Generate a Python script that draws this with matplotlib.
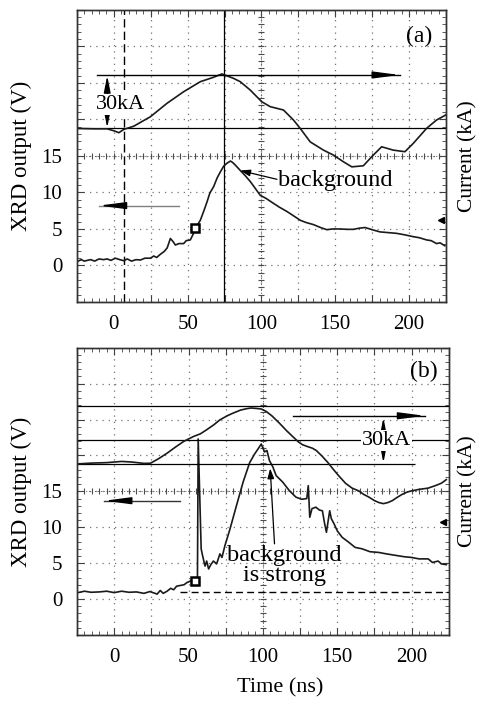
import numpy as np
import matplotlib
matplotlib.use("Agg")
import matplotlib.pyplot as plt
from matplotlib.ticker import FixedLocator, MultipleLocator, FuncFormatter

# ---- (a) XRD output, V
a_xrd_t = np.array([-24.7, -22, -20, -17, -15.7, -13, -10, -7, -4.5, -2, 1, 4, 6.8, 9, 12, 15, 18, 21,
                    24.8, 27, 29, 31.6, 34, 36.1, 38.3, 40, 41.7, 44, 47.3, 49, 51.8, 54, 55.3, 58.6,
                    61, 63.1, 65, 67.6, 70, 72.1, 74.4, 76.6, 79, 80.5, 82.5, 85.7, 89, 92.4, 96, 99.2,
                    103, 108.2, 112, 117.2, 121, 126.2, 130, 135.2, 140, 144.3, 148, 153.3, 158, 162.3,
                    166, 170.2, 175, 180.3, 186, 191.6, 197, 202.8, 207, 211.9, 215, 218.6, 221, 224.2])
a_xrd_v = np.array([0.55, 0.8, 0.6, 0.75, 0.8, 0.6, 0.9, 0.8, 0.9, 0.7, 1.0, 0.8, 0.65, 0.9, 0.6, 0.8, 0.75, 1.0,
                    1.0, 1.3, 1.1, 1.55, 1.9, 2.4, 3.7, 3.3, 2.8, 3.0, 3.0, 3.4, 3.5, 4.4, 5.1, 6.2,
                    7.5, 8.7, 9.9, 10.8, 12.0, 12.8, 13.6, 14.0, 14.3, 14.1, 13.7, 13.0, 12.3, 11.5, 10.5, 9.6,
                    9.2, 8.5, 8.0, 7.4, 6.9, 6.2, 5.9, 5.6, 5.2, 4.9, 5.0, 5.0, 4.95, 4.95,
                    5.1, 5.2, 4.9, 4.6, 4.5, 4.4, 4.2, 3.95, 3.8, 3.5, 3.4, 3.0, 3.1, 2.7])

# ---- (a) discharge current, kA
a_cur_t = np.array([-24.3, -13.5, -4.5, 0, 3.4, 6.8, 13.5, 24.8, 36, 47.3, 58.6, 67.6, 73.2, 81, 85.6,
                    92.3, 100.2, 105.9, 114.9, 121.7, 126.2, 133, 142, 148.7, 155.5, 161.2, 169, 175.8,
                    181.4, 189.3, 197.2, 202.8, 211.9, 218.6, 224.7])
a_cur_i = np.array([-0.4, -0.6, -0.6, -1.7, -2.8, -0.9, 0.9, 6.3, 13.9, 20.5, 26.2, 28.7, 30.6, 28.1, 26.2,
                    21.5, 14.8, 12.0, 10.1, 4.4, -0.3, -8.0, -12.7, -15.5, -19.3, -22.2, -21.6, -15.5,
                    -10.8, -12.7, -13.6, -8.9, -0.3, 4.4, 7.2])

# ---- (b) XRD output, V
b_xrd_t = np.array([-24.4, -20, -15.5, -10, -5, 0, 5, 10, 15, 20, 24, 28.9, 31, 33, 35.6, 38, 40, 42,
                    44.5, 47, 48.9, 52.3, 54.5, 56, 56.5, 58.5, 59.5, 61.1, 62.2, 63.5, 65, 66.7, 68.9,
                    71.1, 72.5, 74.4, 77.8, 82.2, 86.7, 91.1, 94.4, 96.7, 98.9, 101.1, 102.7, 104.4,
                    106.7, 108.9, 113.3, 117.8, 122.2, 126, 129.5, 130.5, 131.5, 133, 135.6, 138, 140,
                    141.5, 142.7, 144.9, 146, 147.8, 150, 153.3, 157.8, 162, 166.7, 172, 177.8, 183,
                    188.9, 195, 200, 205, 211.1, 214, 217.8, 220, 223.3])
b_xrd_v = np.array([0.9, 1.1, 0.95, 1.0, 1.1, 0.9, 1.1, 0.95, 1.0, 0.8, 1.05, 0.7, 1.2, 0.8, 1.1, 1.5, 1.3, 1.8,
                    1.9, 2.0, 2.3, 2.6, 2.5, 2.8, 22.3, 7.0, 6.0, 4.6, 5.3, 4.2, 4.8, 5.3, 4.9,
                    6.3, 5.8, 7.4, 9.7, 13.0, 16.3, 19.0, 20.2, 20.9, 21.6, 20.5, 20.7, 19.3,
                    18.4, 17.2, 16.3, 15.1, 14.2, 13.9, 14.0, 15.8, 11.4, 12.6, 12.8, 12.4, 12.3,
                    10.5, 9.3, 12.3, 11.2, 10.5, 9.5, 8.6, 7.9, 7.2, 7.0, 6.6, 6.5, 6.3,
                    6.1, 5.9, 5.8, 5.6, 5.6, 5.1, 5.3, 4.9, 4.8])

# ---- (b) discharge current, kA
b_cur_t = np.array([-24, -15, -5, 5, 12, 20, 24.4, 30, 35.6, 41, 46.7, 53.3, 58, 62.2, 67, 71.1, 76, 80,
                    85, 88.9, 92, 95.6, 99, 102.2, 106, 111.1, 116, 120, 124, 126.7, 130, 133.3, 136,
                    140, 144, 146.7, 151, 155.6, 160, 164.4, 168, 171, 175, 178, 181, 184, 187, 190,
                    193.3, 197, 200, 205, 211, 216, 220, 223.3])
b_cur_i = np.array([0.0, 0.5, 0.8, 1.6, 1.2, 0.3, 0.4, 3.5, 7.1, 11, 14.9, 18.2, 20, 22.7, 26, 29.3, 32, 33.8,
                    35.8, 36.7, 37.2, 36.9, 36.5, 34.9, 32, 27.1, 22, 18.2, 14.5, 12.7, 11.5, 10.4, 8.8,
                    4.9, 0.5, -2.9, -8, -13, -16.2, -18, -20.5, -22, -24.5, -25.8, -26.5, -25.8, -24.5, -22.5,
                    -20.5, -18.8, -18, -17, -16.2, -14.5, -12.9, -10.5])

t_labels = [0, 50, 100, 150, 200]
v_labels = [0, 5, 10, 15]

plt.rcParams.update({"font.family": ["Liberation Serif", "DejaVu Serif"], "font.size": 15,
                     "axes.linewidth": 1.0, "axes.edgecolor": "0.2"})

fig = plt.figure(figsize=(4.78, 7.04), dpi=100)
axA = fig.add_axes([0.161, 0.571, 0.772, 0.415])
axB = fig.add_axes([0.161, 0.098, 0.778, 0.408])

TR = "0.1"


def scope(ax, cur_lim, rlab):
    ax.set_xlim(-25, 225)
    ax.set_ylim(-5, 35)
    ax.xaxis.set_major_locator(FixedLocator(np.arange(-25, 226, 25)))
    ax.xaxis.set_minor_locator(MultipleLocator(5))
    ax.yaxis.set_major_locator(FixedLocator(np.arange(-5, 36, 5)))
    ax.yaxis.set_minor_locator(MultipleLocator(1))
    ax.xaxis.set_major_formatter(FuncFormatter(lambda v, p: f"{v:.0f}" if round(v) in t_labels else ""))
    ax.yaxis.set_major_formatter(FuncFormatter(lambda v, p: f"{v:.0f}" if round(v) in v_labels else ""))
    ax.grid(which="major", ls=(0, (1, 4)), color="0.45", lw=0.9)
    # centre cross of the scope screen with sub-division marks
    ax.axhline(15, color="0.35", lw=0.7, ls=(0, (1, 2)))
    ax.axvline(100, color="0.35", lw=0.7, ls=(0, (1, 2)))
    ax.plot(np.arange(-25, 226, 5), np.full(51, 15), "|", ms=5, mew=0.8, color="0.3")
    ax.plot(np.full(41, 100), np.arange(-5, 36, 1), "_", ms=5, mew=0.8, color="0.3")
    ax.set_ylabel("XRD output (V)", fontsize=16.5)
    ax.yaxis.set_label_coords(-0.122, 0.5)
    ax2 = ax.twinx()
    ax2.set_ylim(*cur_lim)
    ax2.set_yticks([])
    ax2.set_ylabel("Current (kA)", fontsize=15.5)
    ax2.yaxis.set_label_coords(rlab, 0.5)
    ax.tick_params(which="both", direction="in", top=True, right=True, color="0.25")
    ax.tick_params(which="major", length=5, width=0.8, labelsize=15)
    ax.tick_params(which="minor", length=3, width=0.6)
    ax.tick_params(axis="x", pad=9)
    ax.tick_params(axis="y", pad=10.5)
    return ax2


def head(ax, x0, x1, y, shaft):
    ax.plot([x0, x1], [y, y], color=shaft, lw=1.0)
    ax.annotate("", xy=(x1, y), xytext=(x1 + (16 if x1 < x0 else -16), y),
                arrowprops=dict(arrowstyle="-|>,head_length=1.0,head_width=0.13", mutation_scale=16,
                                lw=1.0, color="black", shrinkA=0, shrinkB=0))


def span(ax, x, y0, y1):
    ax.annotate("", xy=(x, y1), xytext=(x, y0),
                arrowprops=dict(arrowstyle="<|-|>,head_length=1.0,head_width=0.2", mutation_scale=10,
                                lw=1.0, color="black", shrinkA=0, shrinkB=0))


# ---------------- panel (a)
cA = scope(axA, (-99, 67), 1.032)
axA.axvline(6.8, color="black", lw=1.0, ls=(0, (6, 3)))
axA.axvline(74.4, color="black", lw=0.9)
axA.plot(a_xrd_t, a_xrd_v, color=TR, lw=1.2)
axA.plot(55.3, 5.1, "s", ms=6, mfc="white", mec="black", mew=1.8)
axA.plot(221.3, 6.2, "<", ms=4, color="black")
head(axA, 43.9, -10.1, 8.2, "0.5")
axA.annotate("", xy=(85.6, 13.0), xytext=(110.5, 11.8),
             arrowprops=dict(arrowstyle="-|>,head_length=0.6,head_width=0.2", mutation_scale=10,
                             lw=0.9, color="black", shrinkA=0, shrinkB=0))
axA.text(111.3, 11.6, "background", fontsize=17.5, ha="left", va="center")
axA.text(0.927, 0.909, "(a)", transform=axA.transAxes, fontsize=17, ha="center", va="center")

cA.axhline(0, color="black", lw=0.9)
cA.plot(a_cur_t, a_cur_i, color=TR, lw=1.2)
head(cA, -11.2, 193.7, 30, "black")
span(cA, -4.5, 0, 29.6)
cA.text(4.6, 13.2, "30kA", fontsize=16, ha="center", va="center",
        bbox=dict(facecolor="white", edgecolor="none", pad=0.5))

# ---------------- panel (b)
cB = scope(axB, (-114, 77.3), 1.025)
axB.hlines(1.0, 44.5, 225, color="black", lw=1.0, ls=(0, (5, 3)))
axB.plot(b_xrd_t, b_xrd_v, color=TR, lw=1.2)
axB.plot(54.5, 2.5, "s", ms=6, mfc="white", mec="black", mew=1.8)
axB.plot(221, 10.8, "<", ms=4, color="black")
head(axB, 44.5, -6.7, 13.7, "0.2")
axB.annotate("", xy=(104.9, 18.2), xytext=(107.8, 7.7),
             arrowprops=dict(arrowstyle="-|>,head_length=0.6,head_width=0.2", mutation_scale=10,
                             lw=0.9, color="black", shrinkA=0, shrinkB=0))
axB.text(114.5, 4.7, "background\nis strong", fontsize=17.5, ha="center", va="center", linespacing=0.9)
axB.text(0.933, 0.917, "(b)", transform=axB.transAxes, fontsize=17, ha="center", va="center")
axB.set_xlabel("Time (ns)", fontsize=16)
axB.xaxis.set_label_coords(0.546, -0.15)

cB.axhline(38.7, color="black", lw=0.9)
cB.axhline(16, color="black", lw=0.9)
cB.hlines(0, -25, 202, color="black", lw=0.9)
cB.plot(b_cur_t, b_cur_i, color=TR, lw=1.2)
head(cB, 120, 209, 32, "black")
span(cB, 181, 0.7, 30.7)
cB.text(183, 15.5, "30kA", fontsize=16, ha="center", va="center",
        bbox=dict(facecolor="white", edgecolor="none", pad=0.5))

fig.savefig("out.png", dpi=100)
